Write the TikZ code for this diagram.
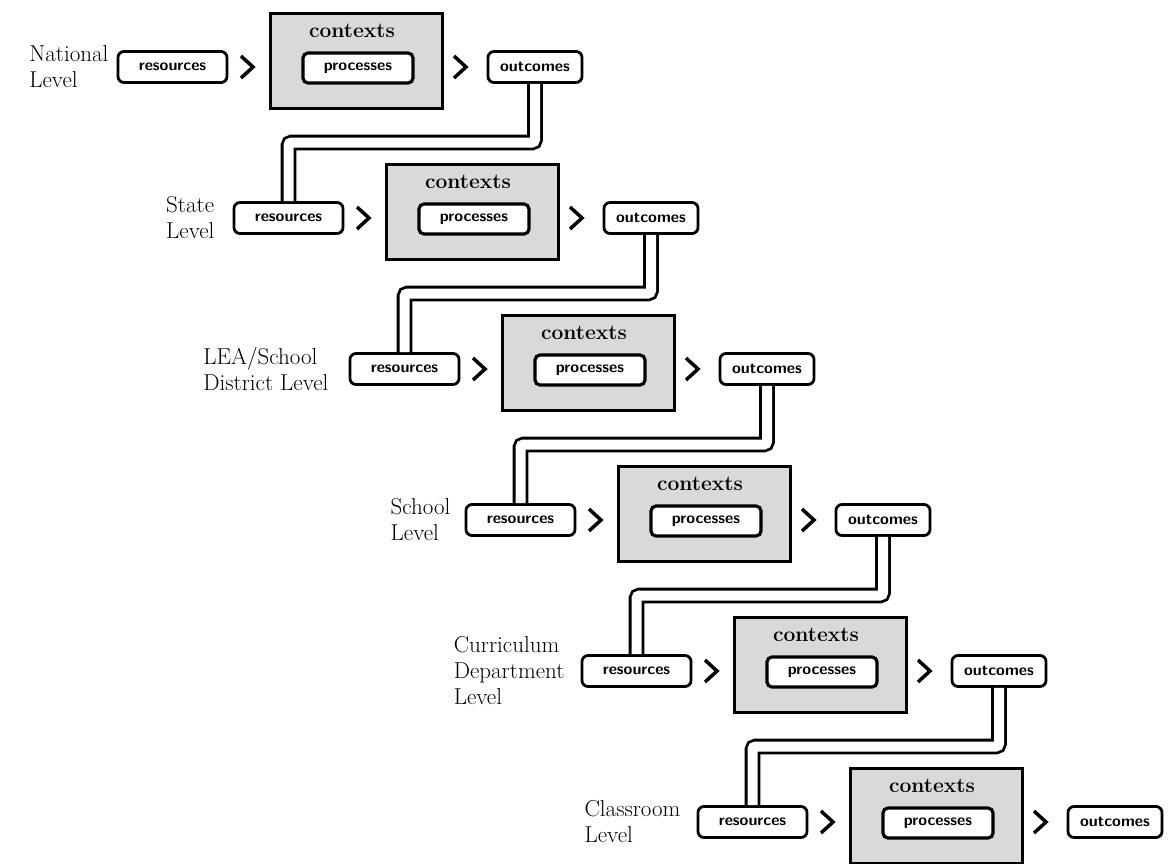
\documentclass[tikz,border=0pt]{standalone}
\usetikzlibrary{positioning,calc}

\tikzset{
  smallbox/.style={draw, line width=2.8pt, rounded corners=6pt, minimum width=109pt,
    minimum height=31pt, inner sep=0pt, font=\sffamily\bfseries\fontsize{16}{16}\selectfont},
  outbox/.style={smallbox, minimum width=94pt},
  ctxbox/.style={draw, line width=3pt, fill=black!15, minimum width=172pt, minimum height=95pt},
  probox/.style={smallbox, fill=white, line width=3.2pt, minimum width=110pt, minimum height=30pt, rounded corners=5pt},
  ctxtext/.style={inner sep=0pt, font=\bfseries\fontsize{21}{21}\selectfont},
  levellabel/.style={align=left, inner sep=0pt, font=\fontsize{23}{26}\selectfont},
  chev/.style={line width=3.5pt},
  pipe/.style={double, double distance=10pt, line width=2.8pt, rounded corners=3pt},
}

\begin{document}
\begin{tikzpicture}[x=1pt, y=-1pt]
    \useasboundingbox (0,0) rectangle (1168,863);

    % National level
    \node[smallbox] (r1) at (172.5,67) {resources};
    \node[ctxbox]   (c1) at (356,60.5) {};
    \node[ctxtext]  (t1) at (352,31) {contexts};
    \node[probox]   (p1) at (358,68) {processes};
    \node[outbox]   (o1) at (535,67) {outcomes};
    \node[levellabel, left=8pt of r1] (l1) {National\\Level};

    % State level
    \node[smallbox] (r2) at (288.5,218) {resources};
    \node[ctxbox]   (c2) at (472,211.5) {};
    \node[ctxtext]  (t2) at (468,182) {contexts};
    \node[probox]   (p2) at (474,219) {processes};
    \node[outbox]   (o2) at (651,218) {outcomes};
    \node[levellabel, left=18pt of r2] (l2) {State\\Level};

    % LEA / school district level
    \node[smallbox] (r3) at (404.5,369) {resources};
    \node[ctxbox]   (c3) at (588,362.5) {};
    \node[ctxtext]  (t3) at (584,333) {contexts};
    \node[probox]   (p3) at (590,370) {processes};
    \node[outbox]   (o3) at (767,369) {outcomes};
    \node[levellabel, left=20pt of r3] (l3) {LEA/School\\District Level};

    % School level
    \node[smallbox] (r4) at (520.5,520) {resources};
    \node[ctxbox]   (c4) at (704,513.5) {};
    \node[ctxtext]  (t4) at (700,484) {contexts};
    \node[probox]   (p4) at (706,521) {processes};
    \node[outbox]   (o4) at (883,520) {outcomes};
    \node[levellabel, left=14pt of r4] (l4) {School\\Level};

    % Curriculum department level
    \node[smallbox] (r5) at (636.5,671) {resources};
    \node[ctxbox]   (c5) at (820,664.5) {};
    \node[ctxtext]  (t5) at (816,635) {contexts};
    \node[probox]   (p5) at (822,672) {processes};
    \node[outbox]   (o5) at (999,671) {outcomes};
    \node[levellabel, left=16pt of r5] (l5) {Curriculum\\Department\\Level};

    % Classroom level
    \node[smallbox] (r6) at (752.5,822) {resources};
    \node[ctxbox]   (c6) at (936,815.5) {};
    \node[ctxtext]  (t6) at (932,786) {contexts};
    \node[probox]   (p6) at (938,823) {processes};
    \node[outbox]   (o6) at (1115,822) {outcomes};
    \node[levellabel, left=16pt of r6] (l6) {Classroom\\Level};

    % Chevrons between the boxes
    \draw[chev] (247,67) +(-6,-11) -- +(6,0) -- +(-6,11);
    \draw[chev] (460,67) +(-6,-11) -- +(6,0) -- +(-6,11);
    \draw[chev] (363,218) +(-6,-11) -- +(6,0) -- +(-6,11);
    \draw[chev] (576,218) +(-6,-11) -- +(6,0) -- +(-6,11);
    \draw[chev] (479,369) +(-6,-11) -- +(6,0) -- +(-6,11);
    \draw[chev] (692,369) +(-6,-11) -- +(6,0) -- +(-6,11);
    \draw[chev] (595,520) +(-6,-11) -- +(6,0) -- +(-6,11);
    \draw[chev] (808,520) +(-6,-11) -- +(6,0) -- +(-6,11);
    \draw[chev] (711,671) +(-6,-11) -- +(6,0) -- +(-6,11);
    \draw[chev] (924,671) +(-6,-11) -- +(6,0) -- +(-6,11);
    \draw[chev] (827,822) +(-6,-11) -- +(6,0) -- +(-6,11);
    \draw[chev] (1040,822) +(-6,-11) -- +(6,0) -- +(-6,11);

    % Pipes from outcomes down to the next level's resources
    \draw[pipe] (o1.south) |- ($(o1.south)!0.5!(r2.north)$) -| (r2.north);
    \draw[pipe] (o2.south) |- ($(o2.south)!0.5!(r3.north)$) -| (r3.north);
    \draw[pipe] (o3.south) |- ($(o3.south)!0.5!(r4.north)$) -| (r4.north);
    \draw[pipe] (o4.south) |- ($(o4.south)!0.5!(r5.north)$) -| (r5.north);
    \draw[pipe] (o5.south) |- ($(o5.south)!0.5!(r6.north)$) -| (r6.north);
\end{tikzpicture}
\end{document}
